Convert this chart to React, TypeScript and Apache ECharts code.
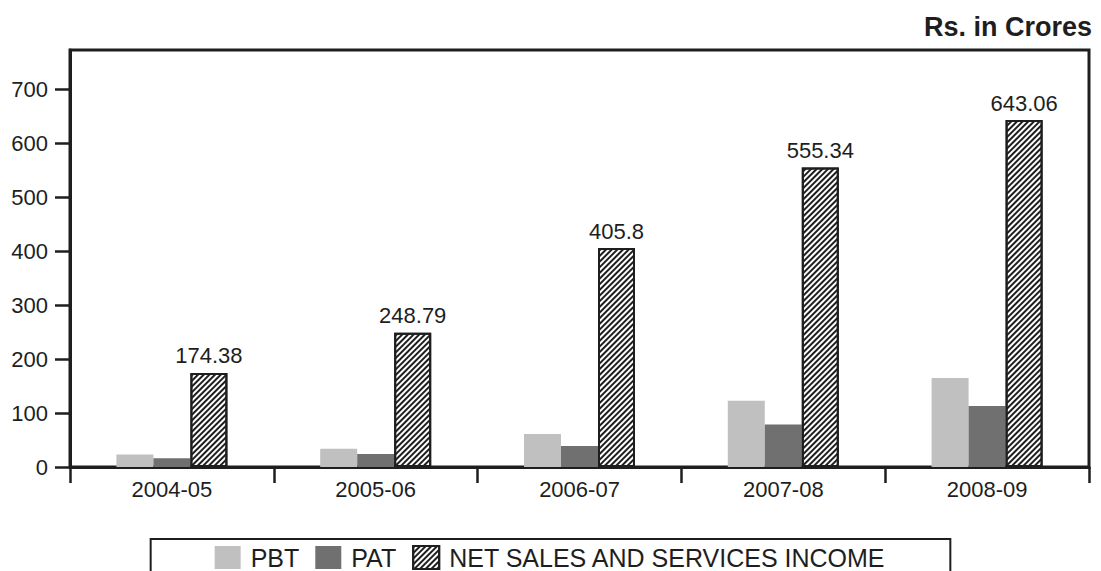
import React, { useEffect, useRef } from "react";
import * as echarts from "echarts";

const categories = ["2004-05", "2005-06", "2006-07", "2007-08", "2008-09"];
const pbt = [23, 34, 61, 123, 165];
const pat = [16, 24, 39, 79, 113];
const netSales = [174.38, 248.79, 405.8, 555.34, 643.06];
const yTicks = [0, 100, 200, 300, 400, 500, 600, 700];

const FONT = "'Liberation Sans', Arial, sans-serif";
const INK = "#1e1e1e";

export default function App() {
  const ref = useRef<HTMLDivElement>(null);
  useEffect(() => {
    document.body.style.margin = "0";
    const chart = echarts.init(ref.current!, null, { renderer: "svg" });
    chart.setOption({
      animation: false,
      backgroundColor: "#fff",
      textStyle: { fontFamily: FONT, color: INK },
      title: {
        text: "Rs. in Crores",
        right: 4,
        top: 8,
        textStyle: { fontFamily: FONT, fontSize: 27, fontWeight: "bold", color: INK },
      },
      legend: {
        left: "center",
        top: 539,
        padding: [6, 64, 40, 64],
        borderColor: INK,
        borderWidth: 2,
        itemWidth: 26,
        itemHeight: 23,
        itemGap: 16,
        icon: "rect",
        textStyle: { fontFamily: FONT, fontSize: 25, color: INK, padding: [0, 0, 0, 5] },
        data: ["PBT", "PAT", "NET SALES AND SERVICES INCOME"],
      },
      grid: {
        left: 70,
        right: 12,
        top: 50,
        bottom: 104,
        show: true,
        borderColor: INK,
        borderWidth: 3,
        containLabel: false,
      },
      xAxis: {
        type: "category",
        data: categories,
        boundaryGap: true,
        axisLine: { show: true, lineStyle: { color: INK, width: 3 } },
        axisTick: { show: true, length: 16, lineStyle: { color: INK, width: 2.5 } },
        axisLabel: { fontFamily: FONT, fontSize: 22, color: INK, margin: 11 },
        splitLine: { show: false },
      },
      yAxis: {
        type: "value",
        min: 0,
        max: 773,
        interval: 100,
        axisLine: { show: true, lineStyle: { color: INK, width: 3 } },
        axisTick: {
          show: true,
          length: 15,
          customValues: yTicks,
          lineStyle: { color: INK, width: 2.5 },
        },
        axisLabel: {
          fontFamily: FONT,
          fontSize: 22,
          color: INK,
          margin: 22,
          customValues: yTicks,
        },
        splitLine: { show: false },
      },
      series: [
        {
          name: "PBT",
          type: "bar",
          data: pbt,
          barWidth: 37,
          barGap: "0%",
          itemStyle: { color: "#c0c0c0" },
        },
        {
          name: "PAT",
          type: "bar",
          data: pat,
          barWidth: 37,
          barGap: "0%",
          itemStyle: { color: "#707070" },
        },
        {
          name: "NET SALES AND SERVICES INCOME",
          type: "bar",
          data: netSales,
          barWidth: 37,
          barGap: "0%",
          itemStyle: {
            color: "#ffffff",
            borderColor: INK,
            borderWidth: 2,
            decal: {
              symbol: "rect",
              symbolSize: 1,
              color: INK,
              backgroundColor: "#ffffff",
              dashArrayX: [1, 0],
              dashArrayY: [1.5, 1.5],
              rotation: -Math.PI / 4,
            },
          },
          label: {
            show: true,
            position: "top",
            distance: 6,
            fontFamily: FONT,
            fontSize: 22,
            color: INK,
          },
        },
      ],
    });
    return () => chart.dispose();
  }, []);
  return <div ref={ref} style={{ width: 1101, height: 571 }} />;
}
